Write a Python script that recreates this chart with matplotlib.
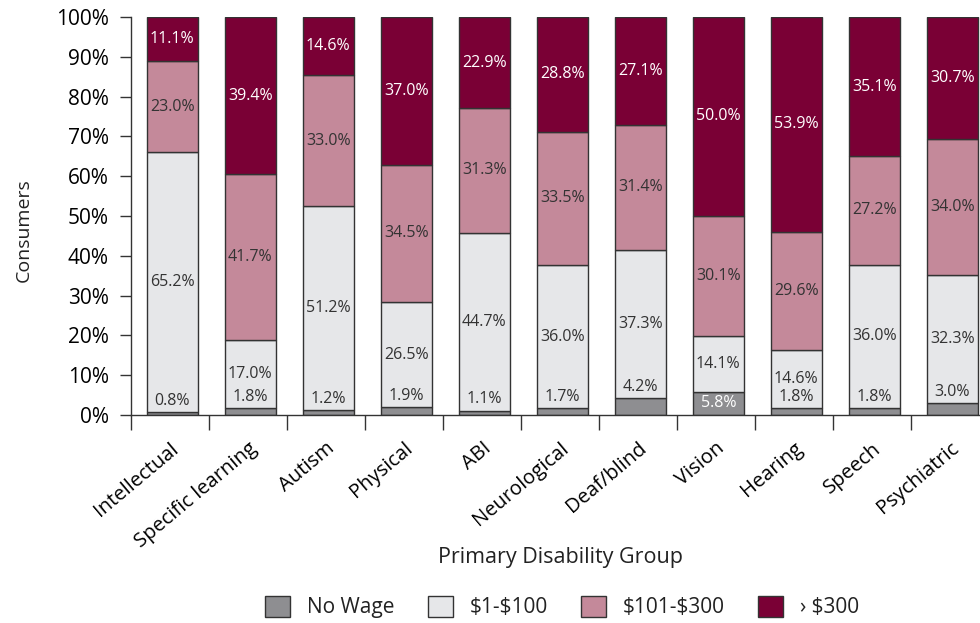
import matplotlib
matplotlib.use("Agg")
import matplotlib.pyplot as plt
import numpy as np

categories = ["Intellectual", "Specific learning", "Autism", "Physical", "ABI",
              "Neurological", "Deaf/blind", "Vision", "Hearing", "Speech", "Psychiatric"]
no_wage = [0.8, 1.8, 1.2, 1.9, 1.1, 1.7, 4.2, 5.8, 1.8, 1.8, 3.0]
wage_1_100 = [65.2, 17.0, 51.2, 26.5, 44.7, 36.0, 37.3, 14.1, 14.6, 36.0, 32.3]
wage_101_300 = [23.0, 41.7, 33.0, 34.5, 31.3, 33.5, 31.4, 30.1, 29.6, 27.2, 34.0]
wage_300_plus = [11.1, 39.4, 14.6, 37.0, 22.9, 28.8, 27.1, 50.0, 53.9, 35.1, 30.7]
series_names = ["No Wage", "$1-$100", "$101-$300", "› $300"]
yticks = [0, 10, 20, 30, 40, 50, 60, 70, 80, 90, 100]

colors = ["#8e8e91", "#e6e7e9", "#c4899a", "#7a0035"]
text_colors = ["#333333", "#333333", "#333333", "#ffffff"]
edge = "#333333"
font = ["Open Sans", "DejaVu Sans"]
plt.rcParams['font.family'] = font
plt.rcParams['text.color'] = "#222222"
plt.rcParams['text.parse_math'] = False

fig = plt.figure(figsize=(9.8, 6.23), dpi=100)
ax = fig.add_axes([131/980, (623-415)/623, (989-131)/980, (415-17)/623])

x = np.arange(len(categories))
series = [no_wage, wage_1_100, wage_101_300, wage_300_plus]
lab_fs = 11.5
bottom = np.zeros(len(categories))
for i, vals in enumerate(series):
    vals = np.array(vals)
    if i == 3:
        vals_draw = 100 - bottom
    else:
        vals_draw = vals
    ax.bar(x + 0.03, vals_draw, bottom=bottom, width=0.66, color=colors[i],
           edgecolor=edge, linewidth=1.0, label=series_names[i], zorder=2)
    for j, v in enumerate(vals):
        if i == 0:
            if v > 5:
                ax.text(x[j] + 0.03, bottom[j] + vals_draw[j] / 2, f"{v:.1f}%", ha="center",
                        va="center", color="white", fontsize=lab_fs, zorder=3)
            else:
                ax.text(x[j] + 0.03, bottom[j] + vals_draw[j] + 0.8, f"{v:.1f}%", ha="center",
                        va="bottom", color="#333333", fontsize=lab_fs, zorder=3)
        else:
            ax.text(x[j] + 0.03, bottom[j] + vals_draw[j] / 2, f"{v:.1f}%", ha="center",
                    va="center", color=text_colors[i], fontsize=lab_fs, zorder=3)
    bottom = bottom + vals_draw

ax.set_xlim(-0.5, len(categories) - 0.5)
ax.set_ylim(0, 100)
ax.set_yticks(yticks)
ax.set_yticklabels([f"{t}%" for t in yticks], fontsize=15)
ax.tick_params(axis="y", length=8, width=1, color="#333333", pad=8)

ax.set_xticks(np.arange(len(categories) + 1) - 0.5)
ax.set_xticklabels([])
ax.tick_params(axis="x", which="major", length=11, width=1, color="#333333", direction="out")
ax.set_xticks(x, minor=True)
ax.set_xticklabels(categories, minor=True, rotation=40, ha="right",
                   rotation_mode="anchor", fontsize=14.5)
ax.tick_params(axis="x", which="minor", length=0, pad=17)

for s in ["top", "right"]:
    ax.spines[s].set_visible(False)
for s in ["left", "bottom"]:
    ax.spines[s].set_color("#333333")
    ax.spines[s].set_linewidth(1)

fig.text(24/980, 1 - 230/623, "Consumers", rotation=90, ha="center", va="center", fontsize=14)
fig.text(560/980, 1 - 558/623, "Primary Disability Group", ha="center", va="center", fontsize=15.5)

handles, labels = ax.get_legend_handles_labels()
fig.legend(handles, labels, loc="center", bbox_to_anchor=(562/980, 1 - 607/623),
           ncol=4, frameon=False, fontsize=15, handlelength=1.2, handleheight=1.2,
           columnspacing=1.6, handletextpad=0.8)

fig.savefig("out.png", dpi=100)
